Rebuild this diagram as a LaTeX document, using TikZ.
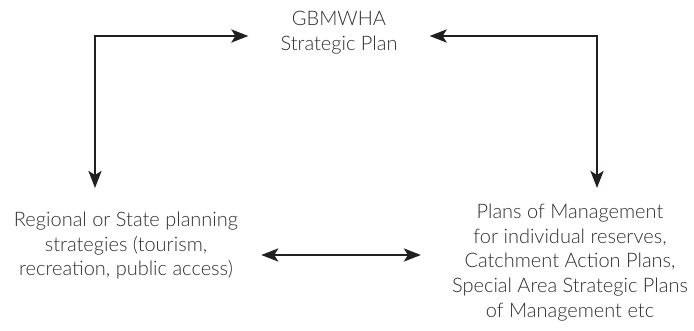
\documentclass[tikz,border=0pt]{standalone}
\usepackage{fontspec}
\setmainfont{Lato}[UprightFont=* Light]
\usetikzlibrary{arrows.meta}
\definecolor{txt}{HTML}{2E2E2E}
\definecolor{ink}{HTML}{231F20}
\begin{document}
\begin{tikzpicture}[x=1pt,y=-1pt,
  lbl/.style={inner sep=0pt,align=center,text=txt,anchor=north,
    font=\fontsize{20}{24.6}\selectfont},
  conn/.style={draw=ink,line width=2.7pt,
    {Stealth[length=17pt,width=13pt,inset=4pt]}-{Stealth[length=17pt,width=13pt,inset=4pt]}}]
\useasboundingbox (0,0) rectangle (694,331);
\node[lbl] (top) at (339,11) {GBMWHA\\Strategic Plan};
\node[lbl] (left) at (126,212) {Regional or State planning\\strategies (tourism,\\recreation, public access)};
\node[lbl] (right) at (570,204) {Plans of Management\\for individual reserves,\\Catchment Action Plans,\\Special Area Strategic Plans\\of Management etc};
\coordinate (lc) at (95,36);
\coordinate (rc) at (597,36);
\coordinate (da) at (0,255);
\draw[conn,shorten <=24pt,shorten >=32pt] (lc |- left.north) -- (lc) -- (lc -| top.west);
\draw[conn,shorten <=32pt,shorten >=16pt] (rc -| top.east) -- (rc) -- (rc |- right.north);
\draw[conn,shorten <=23pt,shorten >=31pt] (left.east |- da) -- (right.west |- da);
\end{tikzpicture}
\end{document}
